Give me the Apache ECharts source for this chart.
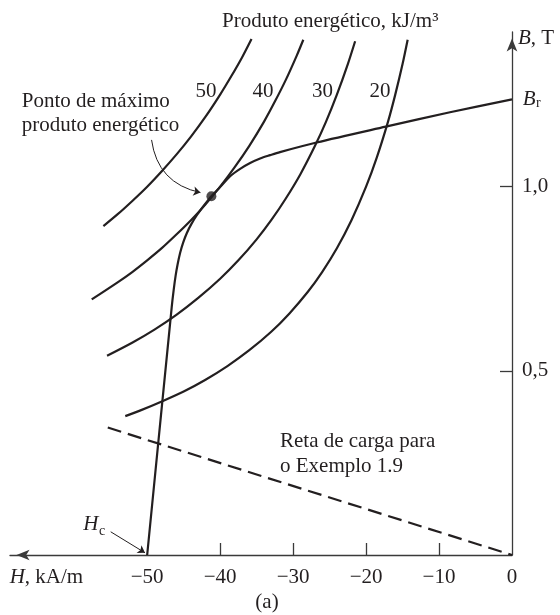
<!DOCTYPE html>
<html>
<head>
<meta charset="utf-8">
<script src="https://cdn.jsdelivr.net/npm/echarts@6/dist/echarts.min.js"></script>
<style>
  html, body { margin: 0; padding: 0; background: #ffffff; }
  #chart { width: 560px; height: 615px; }
</style>
</head>
<body>
<div id="chart"></div>
<script>
// Axis ticks: H in kA/m, B in T
const hTickLabels = [-50, -40, -30, -20, -10, 0];
const hTickMarks = [-40, -30, -20, -10];
const bTicks = [0.5, 1.0];

// Curves of constant energy product (kJ/m3), points as [H, B]
const energyLabels = ['50', '40', '30', '20'];
const curve50 = [[-35.7, 1.401], [-37.0, 1.351], [-38.5, 1.299], [-40.0, 1.25], [-42.0, 1.19],
  [-44.0, 1.136], [-46.0, 1.087], [-48.0, 1.042], [-50.0, 1.0], [-52.0, 0.962], [-54.0, 0.926],
  [-56.0, 0.893]];
const curve40 = [[-28.6, 1.399], [-29.5, 1.356], [-31.0, 1.29], [-32.5, 1.231], [-34.0, 1.176],
  [-36.0, 1.111], [-38.0, 1.053], [-40.0, 1.0], [-42.0, 0.952], [-44.0, 0.909], [-46.0, 0.87],
  [-48.0, 0.833], [-50.0, 0.8], [-52.0, 0.769], [-54.0, 0.741], [-57.6, 0.694]];
const curve30 = [[-21.5, 1.395], [-22.5, 1.333], [-24.0, 1.25], [-25.5, 1.176], [-27.0, 1.111],
  [-29.0, 1.034], [-31.0, 0.968], [-33.0, 0.909], [-35.0, 0.857], [-37.5, 0.8], [-40.0, 0.75],
  [-43.0, 0.698], [-46.0, 0.652], [-49.0, 0.612], [-52.0, 0.577], [-55.5, 0.541]];
const curve20 = [[-14.3, 1.399], [-15.0, 1.333], [-16.0, 1.25], [-17.0, 1.176], [-18.5, 1.081],
  [-20.0, 1.0], [-22.0, 0.909], [-24.0, 0.833], [-26.0, 0.769], [-28.0, 0.714], [-30.5, 0.656],
  [-33.0, 0.606], [-36.0, 0.556], [-39.0, 0.513], [-42.0, 0.476], [-45.0, 0.444], [-48.0, 0.417],
  [-51.0, 0.392], [-53.0, 0.377]];

// Demagnetization curve from Br down to Hc
const demagCurve = [[0, 1.237], [-8.5, 1.202], [-17.3, 1.163], [-26.8, 1.12], [-31.8, 1.094],
  [-33.15, 1.0856], [-34.52, 1.0764], [-35.89, 1.0642], [-37.26, 1.0484], [-38.63, 1.0284],
  [-40.0, 0.999], [-41.2, 0.974], [-42.19, 0.9495], [-43.15, 0.9238], [-43.97, 0.8977],
  [-44.56, 0.8743], [-45.07, 0.8482], [-45.48, 0.8205], [-45.82, 0.7899], [-46.1, 0.7584],
  [-46.37, 0.7193], [-46.64, 0.6726], [-50.0, 0]];

// Load line of Example 1.9 and the maximum energy-product point
const loadLine = [[-55.4, 0.346], [0, 0]];
const maxPoint = [[-41.2, 0.974]];

// Annotation pointers [from, to]
const maxPointPointer = [[-49.4, 1.127], [-42.7, 0.984]];
const hcPointer = [[-55.0, 0.063], [-50.3, 0.006]];

const INK = '#231f20';
const FONT = '"Liberation Serif", "Times New Roman", serif';
const FS = 21;

const chart = echarts.init(document.getElementById('chart'), null, { renderer: 'canvas' });

function curve(data, name, smooth) {
  return {
    name: name, type: 'line', data: data, smooth: smooth, showSymbol: false, silent: true,
    lineStyle: { color: INK, width: 2.2 }
  };
}

function text(str, x, y, extra) {
  return Object.assign({
    type: 'text', x: x, y: y, silent: true,
    style: Object.assign({
      text: str, fill: INK, fontFamily: FONT, fontSize: FS,
      align: 'left', verticalAlign: 'middle'
    }, (extra && extra.style) || {})
  }, extra && extra.el || {});
}

const italic = { i: { fontStyle: 'italic', fontFamily: FONT, fontSize: FS, fill: INK } };

const option = {
  animation: false,
  backgroundColor: '#ffffff',
  grid: { left: 10, right: 48, top: 32, bottom: 60 },
  xAxis: {
    type: 'value', min: -68.8, max: 0,
    axisLine: {
      onZero: false, lineStyle: { color: '#3a3a3a', width: 1.3 },
      symbol: ['arrow', 'none'], symbolSize: [8, 13], symbolOffset: [6.5, 0]
    },
    axisTick: { customValues: hTickMarks, inside: true, length: 12, lineStyle: { color: '#3a3a3a', width: 1.3 } },
    axisLabel: {
      customValues: hTickLabels, margin: 12, color: INK, fontFamily: FONT, fontSize: FS,
      formatter: v => String(v).replace('-', '\u2212')
    },
    splitLine: { show: false }
  },
  yAxis: {
    type: 'value', position: 'right', min: 0, max: 1.42,
    axisLine: {
      onZero: false, lineStyle: { color: '#3a3a3a', width: 1.3 },
      symbol: ['none', 'arrow'], symbolSize: [8, 13], symbolOffset: [0, -6.5]
    },
    axisTick: { customValues: bTicks, inside: true, length: 12, lineStyle: { color: '#3a3a3a', width: 1.3 } },
    axisLabel: {
      customValues: bTicks, margin: 10, color: INK, fontFamily: FONT, fontSize: FS,
      formatter: v => v.toFixed(1).replace('.', ',')
    },
    splitLine: { show: false }
  },
  series: [
    curve(curve50, energyLabels[0], 0.3),
    curve(curve40, energyLabels[1], 0.3),
    curve(curve30, energyLabels[2], 0.3),
    curve(curve20, energyLabels[3], 0.3),
    curve(demagCurve, 'Desmagnetização', 0.3),
    {
      name: 'Reta de carga', type: 'line', data: loadLine, showSymbol: false, silent: true,
      lineStyle: { color: INK, width: 2.2, type: [14, 7] }
    },
    {
      name: 'Máximo', type: 'scatter', data: maxPoint, symbol: 'circle', symbolSize: 10,
      itemStyle: { color: INK }, silent: true, z: 5
    },
    {
      type: 'lines', coordinateSystem: 'cartesian2d', silent: true,
      symbol: ['none', 'arrow'], symbolSize: 7,
      lineStyle: { color: INK, width: 1, curveness: -0.35, opacity: 1 },
      data: [{ coords: maxPointPointer }]
    },
    {
      type: 'lines', coordinateSystem: 'cartesian2d', silent: true,
      symbol: ['none', 'arrow'], symbolSize: 7,
      lineStyle: { color: INK, width: 1, curveness: 0, opacity: 1 },
      data: [{ coords: hcPointer }]
    }
  ],
  graphic: [
    text('Produto energético, kJ/m\u00b3', 222, 21),
    text(energyLabels[0], 206, 91, { style: { align: 'center' } }),
    text(energyLabels[1], 263, 91, { style: { align: 'center' } }),
    text(energyLabels[2], 322.5, 91, { style: { align: 'center' } }),
    text(energyLabels[3], 380, 91, { style: { align: 'center' } }),
    text('Ponto de máximo', 21.7, 101),
    text('produto energético', 21.7, 125),
    text('{i|B}, T', 518, 38, { style: { rich: italic } }),
    text('B', 522.7, 99, { style: { fontStyle: 'italic' } }),
    text('r', 536, 103, { style: { fontSize: 14 } }),
    text('Reta de carga para', 280, 441),
    text('o Exemplo 1.9', 280, 466),
    text('H', 83.3, 524.7, { style: { fontStyle: 'italic' } }),
    text('c', 99, 531, { style: { fontSize: 14 } }),
    text('{i|H}, kA/m', 9.7, 577, { style: { rich: italic } }),
    text('(a)', 267, 602, { style: { align: 'center' } })
  ]
};

chart.setOption(option);
</script>
</body>
</html>
